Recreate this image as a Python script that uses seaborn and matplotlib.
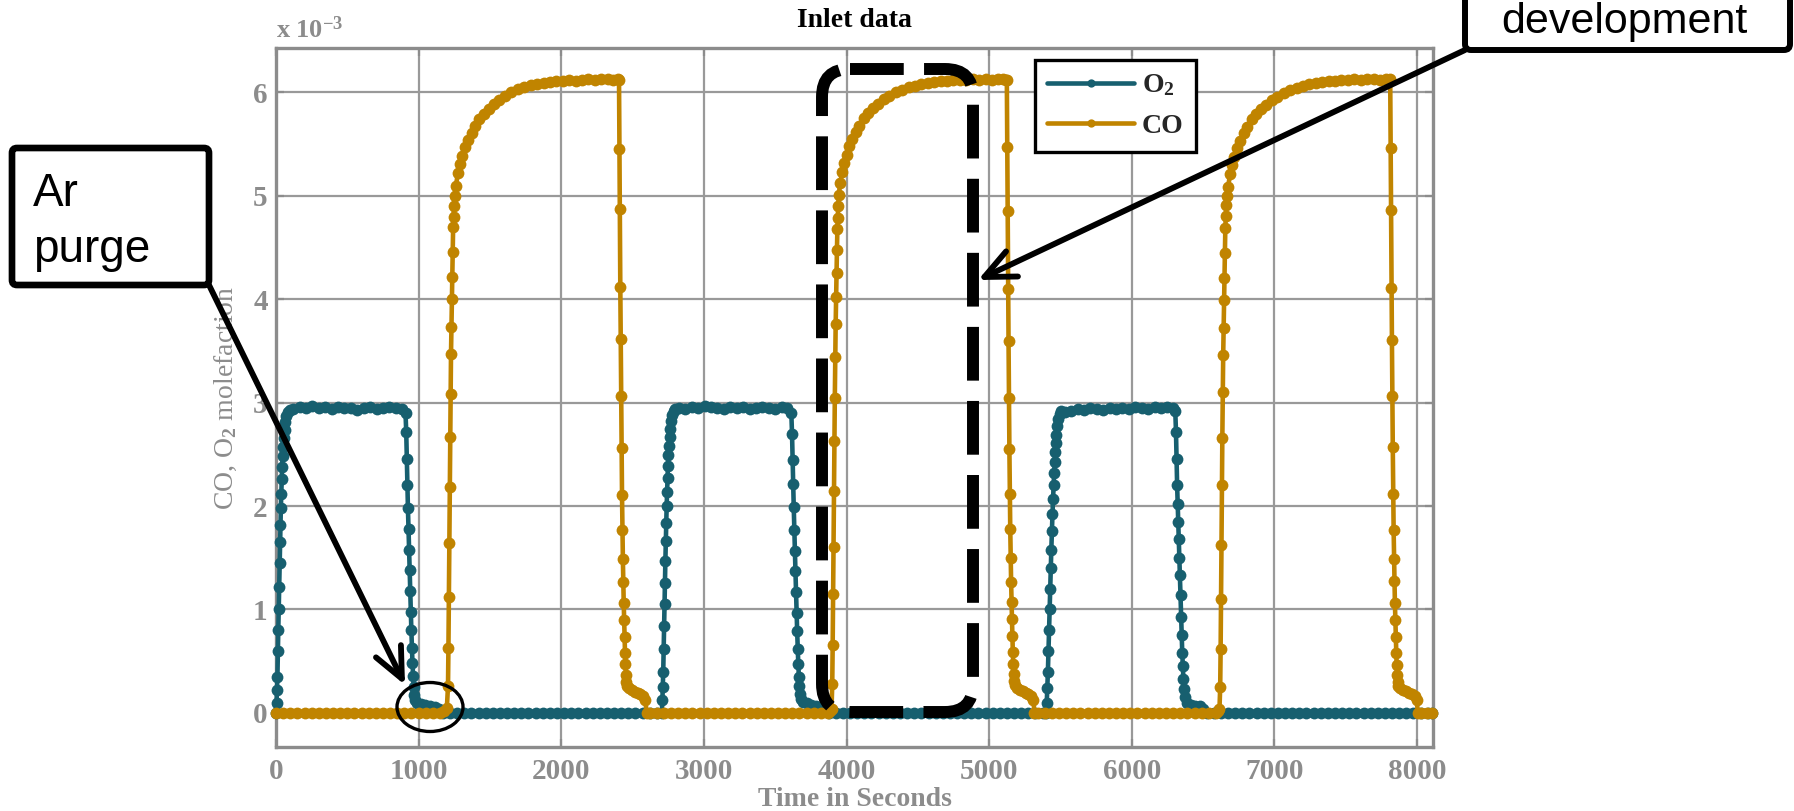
import matplotlib
matplotlib.use("Agg")
import matplotlib.pyplot as plt
import seaborn as sns
from matplotlib.patches import FancyBboxPatch, Ellipse, FancyArrowPatch, ArrowStyle
from matplotlib.transforms import Affine2D
from matplotlib.font_manager import FontProperties

# ---------------------------------------------------------------------------
# Inlet mole fractions (values in units of 1e-3), time in seconds
# ---------------------------------------------------------------------------
o2_time = [
    0, 4, 7, 10, 13, 16, 19, 22, 25, 28, 31, 34, 37, 40, 43, 46, 50, 55, 60, 66, 73, 82, 95,
    120, 165, 210, 255, 300, 345, 390, 435, 480, 525, 570, 615, 660, 705, 750, 795, 840, 880,
    908, 913, 917, 921, 925, 929, 933, 937, 941, 945, 949, 953, 957, 961, 965, 970, 976,
    990, 1015, 1045, 1080, 1115, 1145, 1170,
    1220, 1270, 1320, 1370, 1420, 1470, 1520, 1570, 1620, 1670, 1720, 1770, 1820, 1870, 1920,
    1970, 2020, 2070, 2120, 2170, 2220, 2270, 2320, 2370, 2420, 2470, 2520, 2570, 2620, 2670,
    2705, 2709, 2712, 2715, 2718, 2721, 2724, 2727, 2730, 2733, 2736, 2739, 2742, 2745, 2748,
    2751, 2755, 2760, 2765, 2771, 2778, 2787, 2800,
    2825, 2870, 2915, 2960, 3005, 3050, 3095, 3140, 3185, 3230, 3275, 3320, 3365, 3410, 3455,
    3500, 3545, 3585,
    3613, 3618, 3622, 3626, 3630, 3634, 3638, 3642, 3646, 3650, 3654, 3658, 3662, 3666, 3670,
    3675, 3681,
    3695, 3720, 3750, 3785, 3820, 3850, 3875,
    3925, 3975, 4025, 4075, 4125, 4175, 4225, 4275, 4325, 4375, 4425, 4475, 4525, 4575, 4625,
    4675, 4725, 4775, 4825, 4875, 4925, 4975, 5025, 5075, 5125, 5175, 5225, 5275, 5325, 5375,
    5400, 5404, 5408, 5412, 5416, 5420, 5424, 5428, 5432, 5436, 5440, 5444, 5448, 5452, 5456,
    5460, 5464, 5468, 5472, 5478, 5485, 5494, 5505,
    5530, 5575, 5620, 5665, 5710, 5755, 5800, 5845, 5890, 5935, 5980, 6025, 6070, 6115, 6160,
    6205, 6250, 6290,
    6305, 6310, 6314, 6318, 6322, 6326, 6330, 6334, 6338, 6342, 6346, 6350, 6354, 6358, 6362,
    6367, 6373,
    6388, 6415, 6445, 6475, 6500, 6525,
    6575, 6625, 6675, 6725, 6775, 6825, 6875, 6925, 6975, 7025, 7075, 7125, 7175, 7225, 7275,
    7325, 7375, 7425, 7475, 7525, 7575, 7625, 7675, 7725, 7775, 7825, 7875, 7925, 7975, 8025,
    8075, 8108,
]
o2_frac = [
    0.00, 0.10, 0.22, 0.35, 0.60, 0.80, 1.00, 1.22, 1.45, 1.65, 1.82, 1.98, 2.12, 2.26, 2.38,
    2.48, 2.57, 2.66, 2.74, 2.81, 2.87, 2.91, 2.93,
    2.94, 2.96, 2.95, 2.97, 2.95, 2.96, 2.94, 2.96, 2.95, 2.95, 2.93, 2.95, 2.96, 2.94, 2.95,
    2.96, 2.95, 2.94,
    2.90, 2.72, 2.46, 2.20, 1.98, 1.78, 1.58, 1.38, 1.18, 0.98, 0.80, 0.63, 0.48, 0.36, 0.25,
    0.17, 0.12,
    0.10, 0.09, 0.08, 0.07, 0.06, 0.04, 0.00,
    0.00, 0.00, 0.00, 0.00, 0.00, 0.00, 0.00, 0.00, 0.00, 0.00, 0.00, 0.00, 0.00, 0.00, 0.00,
    0.00, 0.00, 0.00, 0.00, 0.00, 0.00, 0.00, 0.00, 0.00, 0.00, 0.00, 0.00, 0.00, 0.00, 0.00,
    0.00, 0.12, 0.25, 0.40, 0.62, 0.84, 1.05, 1.26, 1.47, 1.66, 1.84, 2.00, 2.14, 2.27, 2.39,
    2.49, 2.58, 2.67, 2.75, 2.82, 2.88, 2.92, 2.94,
    2.95, 2.94, 2.96, 2.95, 2.97, 2.96, 2.95, 2.94, 2.96, 2.95, 2.96, 2.94, 2.95, 2.96, 2.95,
    2.94, 2.96, 2.95,
    2.90, 2.70, 2.45, 2.21, 1.99, 1.77, 1.57, 1.37, 1.17, 0.97, 0.79, 0.62, 0.47, 0.35, 0.26,
    0.18, 0.13,
    0.11, 0.10, 0.08, 0.07, 0.06, 0.04, 0.00,
    0.00, 0.00, 0.00, 0.00, 0.00, 0.00, 0.00, 0.00, 0.00, 0.00, 0.00, 0.00, 0.00, 0.00, 0.00,
    0.00, 0.00, 0.00, 0.00, 0.00, 0.00, 0.00, 0.00, 0.00, 0.00, 0.00, 0.00, 0.00, 0.00, 0.00,
    0.00, 0.10, 0.24, 0.40, 0.60, 0.80, 1.00, 1.20, 1.40, 1.58, 1.76, 1.92, 2.07, 2.20, 2.32,
    2.43, 2.52, 2.61, 2.69, 2.77, 2.84, 2.89, 2.92,
    2.91, 2.92, 2.94, 2.93, 2.95, 2.94, 2.93, 2.95, 2.94, 2.95, 2.94, 2.96, 2.95, 2.94, 2.96,
    2.95, 2.96, 2.95,
    2.92, 2.72, 2.46, 2.20, 2.02, 1.85, 1.68, 1.50, 1.33, 1.14, 0.93, 0.75, 0.58, 0.45, 0.33,
    0.23, 0.15,
    0.10, 0.08, 0.07, 0.07, 0.04, 0.00,
    0.00, 0.00, 0.00, 0.00, 0.00, 0.00, 0.00, 0.00, 0.00, 0.00, 0.00, 0.00, 0.00, 0.00, 0.00,
    0.00, 0.00, 0.00, 0.00, 0.00, 0.00, 0.00, 0.00, 0.00, 0.00, 0.00, 0.00, 0.00, 0.00, 0.00,
    0.00, 0.00,
]

co_time = [
    0, 50, 100, 150, 200, 250, 300, 350, 400, 450, 500, 550, 600, 650, 700, 750, 800, 850,
    900, 950, 1000, 1050, 1100, 1150, 1180, 1198,
    1206, 1209, 1212, 1215, 1218, 1221, 1224, 1227, 1230, 1233, 1236, 1239, 1242, 1245, 1248,
    1252,
    1261, 1276, 1291, 1306, 1326, 1346, 1371, 1396, 1426, 1456, 1491, 1526, 1566, 1606, 1651,
    1696, 1741, 1786, 1831, 1876, 1921, 1966, 2011, 2056, 2101, 2146, 2191, 2236, 2281, 2326,
    2366, 2401,
    2405, 2408, 2411, 2414, 2417, 2420, 2423, 2426, 2429, 2432, 2435, 2438, 2441, 2444, 2447,
    2450, 2453, 2457, 2462,
    2475, 2495, 2515, 2535, 2555, 2575, 2590, 2598,
    2620, 2670, 2720, 2770, 2820, 2870, 2920, 2970, 3020, 3070, 3120, 3170, 3220, 3270, 3320,
    3370, 3420, 3470, 3520, 3570, 3620, 3670, 3720, 3770, 3820, 3870, 3885, 3895,
    3900, 3903, 3906, 3909, 3912, 3915, 3918, 3921, 3924, 3927, 3930, 3933, 3936, 3939, 3942,
    3946,
    3955, 3970, 3985, 4000, 4020, 4040, 4065, 4090, 4120, 4150, 4185, 4220, 4260, 4300, 4345,
    4390, 4435, 4480, 4525, 4570, 4615, 4660, 4705, 4750, 4795, 4840, 4885, 4930, 4975, 5020,
    5060, 5095, 5120,
    5124, 5127, 5130, 5133, 5136, 5139, 5142, 5145, 5148, 5151, 5154, 5157, 5160, 5163, 5166,
    5169, 5172, 5176, 5181,
    5195, 5215, 5235, 5255, 5275, 5295, 5310, 5318,
    5340, 5390, 5440, 5490, 5540, 5590, 5640, 5690, 5740, 5790, 5840, 5890, 5940, 5990, 6040,
    6090, 6140, 6190, 6240, 6290, 6340, 6390, 6440, 6490, 6540, 6590, 6605, 6615,
    6620, 6623, 6626, 6629, 6632, 6635, 6638, 6641, 6644, 6647, 6650, 6653, 6656, 6659, 6662,
    6666,
    6675, 6690, 6705, 6720, 6740, 6760, 6785, 6810, 6840, 6870, 6905, 6940, 6980, 7020, 7065,
    7110, 7155, 7200, 7245, 7290, 7335, 7380, 7425, 7470, 7515, 7560, 7605, 7650, 7695, 7740,
    7780, 7808,
    7812, 7815, 7818, 7821, 7824, 7827, 7830, 7833, 7836, 7839, 7842, 7845, 7848, 7851, 7854,
    7857, 7860, 7864, 7869,
    7883, 7903, 7923, 7943, 7963, 7983, 7998, 8006,
    8030, 8070, 8108,
]
co_frac = [
    0.00, 0.00, 0.00, 0.00, 0.00, 0.00, 0.00, 0.00, 0.00, 0.00, 0.00, 0.00, 0.00, 0.00, 0.00,
    0.00, 0.00, 0.00, 0.00, 0.00, 0.00, 0.00, 0.00, 0.00, 0.02, 0.05,
    0.26, 0.63, 1.12, 1.64, 2.18, 2.67, 3.08, 3.47, 3.73, 4.00, 4.22, 4.46, 4.70, 4.80, 4.90,
    5.00,
    5.10, 5.22, 5.31, 5.39, 5.47, 5.54, 5.61, 5.68, 5.74, 5.79, 5.84, 5.89, 5.93, 5.97, 6.00,
    6.03, 6.05, 6.07, 6.08, 6.09, 6.10, 6.11, 6.11, 6.12, 6.11, 6.12, 6.13, 6.12, 6.13, 6.13,
    6.12, 6.13,
    6.12, 5.45, 4.87, 4.12, 3.62, 3.06, 2.56, 2.11, 1.77, 1.49, 1.27, 1.06, 0.90, 0.73, 0.58,
    0.47, 0.37, 0.30, 0.26,
    0.24, 0.22, 0.20, 0.19, 0.18, 0.16, 0.12, 0.00,
    0.00, 0.00, 0.00, 0.00, 0.00, 0.00, 0.00, 0.00, 0.00, 0.00, 0.00, 0.00, 0.00, 0.00, 0.00,
    0.00, 0.00, 0.00, 0.00, 0.00, 0.00, 0.00, 0.00, 0.00, 0.00, 0.00, 0.02, 0.04,
    0.28, 0.66, 1.15, 1.60, 2.15, 2.63, 3.05, 3.44, 3.76, 4.02, 4.25, 4.48, 4.68, 4.79, 4.90,
    5.01,
    5.12, 5.23, 5.32, 5.40, 5.48, 5.55, 5.62, 5.68, 5.75, 5.80, 5.85, 5.89, 5.94, 5.97, 6.00,
    6.02, 6.05, 6.06, 6.08, 6.09, 6.10, 6.11, 6.11, 6.12, 6.12, 6.12, 6.13, 6.12, 6.13, 6.12,
    6.13, 6.13, 6.12,
    6.12, 5.47, 4.85, 4.10, 3.60, 3.05, 2.55, 2.12, 1.78, 1.50, 1.27, 1.07, 0.91, 0.74, 0.59,
    0.47, 0.38, 0.31, 0.27,
    0.24, 0.22, 0.21, 0.19, 0.18, 0.16, 0.12, 0.00,
    0.00, 0.00, 0.00, 0.00, 0.00, 0.00, 0.00, 0.00, 0.00, 0.00, 0.00, 0.00, 0.00, 0.00, 0.00,
    0.00, 0.00, 0.00, 0.00, 0.00, 0.00, 0.00, 0.00, 0.00, 0.00, 0.00, 0.02, 0.04,
    0.25, 0.62, 1.10, 1.62, 2.20, 2.66, 3.10, 3.46, 3.72, 3.99, 4.21, 4.45, 4.69, 4.81, 4.91,
    5.00,
    5.09, 5.21, 5.30, 5.38, 5.46, 5.53, 5.61, 5.67, 5.74, 5.79, 5.84, 5.88, 5.93, 5.96, 5.99,
    6.02, 6.04, 6.06, 6.08, 6.09, 6.10, 6.11, 6.11, 6.12, 6.12, 6.13, 6.12, 6.13, 6.13, 6.12,
    6.13, 6.13,
    6.12, 5.46, 4.86, 4.11, 3.61, 3.06, 2.57, 2.12, 1.77, 1.49, 1.28, 1.06, 0.90, 0.73, 0.58,
    0.46, 0.37, 0.30, 0.26,
    0.24, 0.22, 0.21, 0.19, 0.18, 0.16, 0.12, 0.00,
    0.00, 0.00, 0.00,
]

x_ticks = [0, 1000, 2000, 3000, 4000, 5000, 6000, 7000, 8000]
y_ticks = [0, 1, 2, 3, 4, 5, 6]

O2_COLOR = "#175f6f"
CO_COLOR = "#c08400"
GRAY = "#8c8c8c"
SERIF = "Liberation Serif"
SANS = "Liberation Sans"

sns.set_theme(style="white")
plt.rcParams["font.family"] = [SERIF, "DejaVu Serif"]
plt.rcParams["mathtext.fontset"] = "custom"
plt.rcParams["mathtext.rm"] = "Liberation Serif:bold"
plt.rcParams["mathtext.it"] = "Liberation Serif:bold"
plt.rcParams["mathtext.bf"] = "Liberation Serif:bold"
plt.rcParams["mathtext.default"] = "rm"

W, H = 1794, 811
fig = plt.figure(figsize=(W / 100, H / 100), dpi=100)
fig.patch.set_facecolor("white")

# axes frame in pixels: left 276, right 1433, top 48, bottom 747
ax = fig.add_axes([276 / W, (H - 747) / H, (1433 - 276) / W, (747 - 48) / H])
ax.set_facecolor("white")

line_kw = dict(linewidth=3.3, marker="o", markersize=8.5, markeredgewidth=0,
               estimator=None, sort=False, clip_on=False, zorder=3)
sns.lineplot(x=o2_time, y=o2_frac, color=O2_COLOR, label="O$_2$", ax=ax, **line_kw)
sns.lineplot(x=co_time, y=co_frac, color=CO_COLOR, label="CO", ax=ax, **line_kw)

ax.set_xlim(0, 8112)
ax.set_ylim(-0.33, 6.43)
ax.set_xticks(x_ticks)
ax.set_yticks(y_ticks)
ax.set_xticklabels([str(t) for t in x_ticks])
ax.set_yticklabels([str(t) for t in y_ticks])
ax.set_axisbelow(True)
ax.grid(True, color="#999999", linewidth=1.6)
for sp in ax.spines.values():
    sp.set_visible(True)
    sp.set_color(GRAY)
    sp.set_linewidth(2.4)
ax.tick_params(axis="both", direction="in", length=6, width=1.6, color=GRAY,
               labelcolor=GRAY, labelsize=21, top=True, right=True,
               bottom=True, left=True)
ax.tick_params(axis="x", pad=8)
ax.tick_params(axis="y", pad=6)
for lbl in ax.get_xticklabels() + ax.get_yticklabels():
    lbl.set_fontweight("bold")
    lbl.set_fontfamily(SERIF)

ax.set_title("Inlet data", fontfamily=SERIF, fontweight="bold", fontsize=20,
             color="black", pad=15)
ax.set_xlabel("Time in Seconds", fontfamily=SERIF, fontweight="bold", fontsize=20,
              color=GRAY, labelpad=1)
ax.set_ylabel("CO, O$_2$ molefaction", fontfamily=SERIF, fontsize=20,
              color=GRAY, labelpad=10)

handles = ax.get_lines()[:2]
leg = ax.legend(handles=handles, labels=["O$_2$", "CO"], loc="upper left",
                bbox_to_anchor=(0.656, 0.983), borderaxespad=0, frameon=True,
                fancybox=False, edgecolor="black", framealpha=1,
                prop=FontProperties(family=SERIF, weight="bold", size=20),
                handlelength=3.1, numpoints=1, markerscale=0.7, borderpad=0.45,
                labelspacing=0.55, handletextpad=0.3)
leg.get_frame().set_linewidth(2.4)
leg.set_zorder(5)

# ---------------------------------------------------------------------------
# Callouts, placed in pixel coordinates measured from the top-left corner
# ---------------------------------------------------------------------------
px = Affine2D().scale(1, -1).translate(0, H)

fig.text(276, 38, "x 10$^{-3}$", transform=px, fontfamily=SERIF, fontweight="bold",
         fontsize=19, color=GRAY, ha="left", va="baseline")

# dashed highlight around the CO build-up of the second cycle
fig.add_artist(FancyBboxPatch((822, 69), 151, 643,
                              boxstyle="round,pad=0,rounding_size=28",
                              transform=px, fill=False, edgecolor="black",
                              linewidth=8.6, linestyle=(0, (4.5, 1.7)),
                              capstyle="butt", zorder=6))

# circle marking the argon purge gap
fig.add_artist(Ellipse((430, 707), 66, 49, transform=px, fill=False,
                       edgecolor="black", linewidth=2.4, zorder=6))

head = ArrowStyle("->", head_length=22, head_width=10)

# "Ar purge" callout
fig.add_artist(FancyBboxPatch((12, 148), 197, 137, boxstyle="round,pad=0,rounding_size=5",
                              transform=px, facecolor="white", edgecolor="black",
                              linewidth=4.8, zorder=7))
fig.text(33, 206, "Ar", transform=px, fontfamily=SANS, fontsize=33, color="black",
         ha="left", va="baseline", zorder=8)
fig.text(33, 262, "purge", transform=px, fontfamily=SANS, fontsize=33, color="black",
         ha="left", va="baseline", zorder=8)
fig.add_artist(FancyArrowPatch(posA=(209, 285), posB=(405, 685), transform=px,
                               arrowstyle=head, mutation_scale=1, shrinkA=0, shrinkB=0,
                               color="black", linewidth=4.2, capstyle="round",
                               joinstyle="round", zorder=7))

# "development" callout
fig.add_artist(FancyBboxPatch((1465, -40), 325, 90, boxstyle="round,pad=0,rounding_size=6",
                              transform=px, facecolor="white", edgecolor="black",
                              linewidth=4.3, zorder=7))
fig.text(1624, 33, "development", transform=px, fontfamily=SANS, fontsize=31,
         color="black", ha="center", va="baseline", zorder=8)
fig.add_artist(FancyArrowPatch(posA=(1465, 50), posB=(978, 280), transform=px,
                               arrowstyle=head, mutation_scale=1, shrinkA=0, shrinkB=0,
                               color="black", linewidth=4.2, capstyle="round",
                               joinstyle="round", zorder=7))

fig.savefig("out.png", dpi=100, facecolor="white")
